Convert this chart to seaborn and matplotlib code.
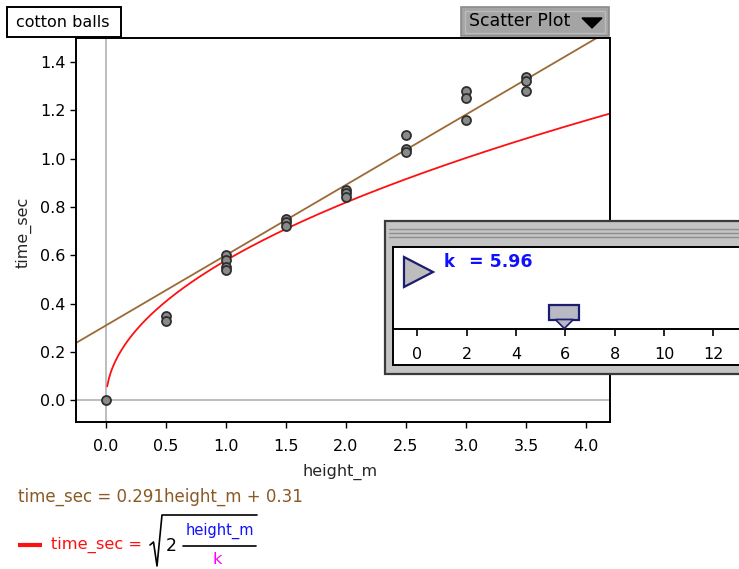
import numpy as np
import pandas as pd
import matplotlib
matplotlib.use("Agg")
import matplotlib.pyplot as plt
from matplotlib.patches import Rectangle, Polygon
import matplotlib.transforms as mtransforms
import seaborn as sns

# ---------------- data ----------------
height_m = [0.0, 0.5, 0.5, 1.0, 1.0, 1.0, 1.0, 1.5, 1.5, 1.5,
            2.0, 2.0, 2.0, 2.5, 2.5, 2.5, 3.0, 3.0, 3.0, 3.5, 3.5, 3.5]
time_sec = [0.0, 0.35, 0.33, 0.60, 0.58, 0.55, 0.54, 0.75, 0.74, 0.72,
            0.87, 0.86, 0.84, 1.10, 1.04, 1.03, 1.28, 1.25, 1.16, 1.34, 1.32, 1.28]
fit_slope = 0.291
fit_intercept = 0.31
k_value = 5.96
x_ticks = [0.0, 0.5, 1.0, 1.5, 2.0, 2.5, 3.0, 3.5, 4.0]
y_ticks = [0.0, 0.2, 0.4, 0.6, 0.8, 1.0, 1.2, 1.4]
slider_ticks = [0, 2, 4, 6, 8, 10, 12]
title_label = "cotton balls"
menu_label = "Scatter Plot"

# ---------------- style ----------------
sns.set_style("white")
plt.rcParams["font.family"] = ["DejaVu Sans"]

BROWN_LINE = "#9b6a36"
BROWN_TEXT = "#8a5a24"
RED = "#ff1010"

W, H = 739, 569
fig = plt.figure(figsize=(W / 100, H / 100), dpi=100)
fig.patch.set_facecolor("white")

def rect(px0, py0, px1, py1):
    return [px0 / W, 1 - py1 / H, (px1 - px0) / W, (py1 - py0) / H]

# ---------------- main axes ----------------
ax = fig.add_axes(rect(76, 38, 610, 422))
ax.set_zorder(1)
ax.set_xlim(-0.25, 4.2)
ax.set_ylim(-0.09, 1.5)
ax.axvline(0, color="#b8b8b8", lw=1.3, zorder=0)
ax.axhline(0, color="#b8b8b8", lw=1.3, zorder=0)

xs = np.linspace(-0.25, 4.2, 200)
df_fit = pd.DataFrame({"height_m": xs, "time_sec": fit_slope * xs + fit_intercept})
sns.lineplot(data=df_fit, x="height_m", y="time_sec", color=BROWN_LINE, lw=1.3, ax=ax, zorder=2)

xr = np.linspace(0.01, 4.2, 300)
df_model = pd.DataFrame({"height_m": xr, "time_sec": np.sqrt(2 * xr / k_value)})
sns.lineplot(data=df_model, x="height_m", y="time_sec", color=RED, lw=1.3, ax=ax, zorder=2)

df_pts = pd.DataFrame({"height_m": height_m, "time_sec": time_sec})
sns.scatterplot(data=df_pts, x="height_m", y="time_sec", color="#8a8a8a",
                edgecolor="#2e2e2e", linewidth=1.3, s=42, ax=ax, zorder=3)

ax.set_xticks(x_ticks)
ax.set_xticklabels([f"{v:.1f}" for v in x_ticks])
ax.set_yticks(y_ticks)
ax.set_yticklabels([f"{v:.1f}" for v in y_ticks])
ax.tick_params(direction="out", length=4.5, width=1.0, labelsize=11.5, pad=3,
               colors="black", bottom=True, left=True)
ax.tick_params(axis="x", pad=8)
for s in ax.spines.values():
    s.set_visible(True)
    s.set_color("black")
    s.set_linewidth(1.4)
ax.set_xlabel("height_m", fontsize=11.5)
ax.set_ylabel("time_sec", fontsize=11.5)
ax.xaxis.set_label_coords((340 - 76) / 534, (422 - 472) / 384)
ax.xaxis.label.set_va("center")
ax.yaxis.set_label_coords((24 - 76) / 534, (422 - 232) / 384)
ax.yaxis.label.set_va("center")

# ---------------- overlay (pixel coordinates) ----------------
ov = fig.add_axes([0, 0, 1, 1])
ov.set_zorder(2)
ov.set_xlim(0, W)
ov.set_ylim(H, 0)
ov.axis("off")

# title box
ov.add_patch(Rectangle((7, 7), 114, 30, facecolor="white", edgecolor="black", lw=1.4))
ov.text(63, 22.5, title_label, fontsize=11.5, ha="center", va="center", color="black")

# Scatter Plot menu button
ov.add_patch(Rectangle((461, 7), 148, 29, facecolor="#a4a4a4", edgecolor="#8a8a8a", lw=1.2))
ov.add_patch(Rectangle((465, 10.5), 140, 22, facecolor="none", edgecolor="#bcbcbc", lw=1.0))
ov.text(469, 21, menu_label, fontsize=12.5, ha="left", va="center", color="black")
ov.add_patch(Polygon([[582, 18], [602, 18], [592, 28]], closed=True, facecolor="black", edgecolor="black"))

# slider panel frame
ov.add_patch(Rectangle((385, 221), 360, 153, facecolor="#c4c4c4", edgecolor="#3a3a3a", lw=1.6))
for yy in (228.5, 232.5, 236.5):
    ov.plot([389, 739], [yy, yy], color="#8e8e8e", lw=1.0)
ov.add_patch(Rectangle((392.5, 246.5), 360, 118.5, facecolor="white", edgecolor="black", lw=1.4))

# play button
ov.add_patch(Polygon([[404, 257], [404, 287], [433, 272]], closed=True,
                     facecolor="#bdbdbd", edgecolor="#1c1c70", lw=1.6))
ov.text(444, 262, "k", fontsize=12, fontweight="bold", color="#1010ff", ha="left", va="center")
ov.text(469, 262, f"= {k_value:.2f}", fontsize=12.5, fontweight="bold", color="#1010ff",
        ha="left", va="center")

# ---------------- slider scale axes ----------------
sax = fig.add_axes(rect(393, 247, 739, 364))
sax.set_zorder(3)
sax.patch.set_alpha(0)
px_per_unit = (713.3 - 417.3) / 12
sax.set_xlim(-(417.3 - 393) / px_per_unit, (739 - 417.3) / px_per_unit)
sax.set_ylim(0, 1)
for side in ("left", "right", "top"):
    sax.spines[side].set_visible(False)
axis_y = (364 - 328.5) / (364 - 247)
sax.spines["bottom"].set_position(("axes", axis_y))
sax.spines["bottom"].set_color("black")
sax.spines["bottom"].set_linewidth(1.4)
sax.set_yticks([])
sax.set_xticks(slider_ticks)
sax.set_xticklabels([str(v) for v in slider_ticks])
sax.tick_params(axis="x", direction="out", length=5, width=1.2, labelsize=11.5, pad=8,
                bottom=True, colors="black")

bt = mtransforms.blended_transform_factory(sax.transData, sax.transAxes)
thumb_w = 30 / px_per_unit
top_y = (364 - 304.5) / (364 - 247)
bot_y = (364 - 319.5) / (364 - 247)
sax.add_patch(Rectangle((k_value - thumb_w / 2, bot_y), thumb_w, top_y - bot_y,
                        transform=bt, facecolor="#b9b9c4", edgecolor="#1c1c70", lw=1.6,
                        zorder=4, clip_on=False))
tri_w = 9 / px_per_unit
sax.add_patch(Polygon([[k_value - tri_w, bot_y], [k_value + tri_w, bot_y], [k_value, axis_y]],
                      closed=True, transform=bt, facecolor="#b9b9c4", edgecolor="#1c1c70",
                      lw=1.2, zorder=4, clip_on=False))

# ---------------- formulas below ----------------
ov.text(18, 497, f"time_sec = {fit_slope}height_m + {fit_intercept}", fontsize=12,
        color=BROWN_TEXT, ha="left", va="center")

ov.plot([18, 42], [545, 545], color=RED, lw=3, solid_capstyle="butt")
ov.text(51, 545, "time_sec =", fontsize=11.7, color=RED, ha="left", va="center")
# radical sign
ov.plot([150, 153.5, 157, 162, 257], [545, 542, 566, 515, 515], color="black", lw=1.2)
ov.text(166, 546, "2", fontsize=12.5, color="black", ha="left", va="center")
ov.plot([183, 256], [546, 546], color="black", lw=1.2)
ov.text(219.5, 531, "height_m", fontsize=10.5, color="#1010ff", ha="center", va="center")
ov.text(217, 559, "k", fontsize=11.5, color="#ff00ff", ha="center", va="center")

fig.savefig("out.png", dpi=100)
